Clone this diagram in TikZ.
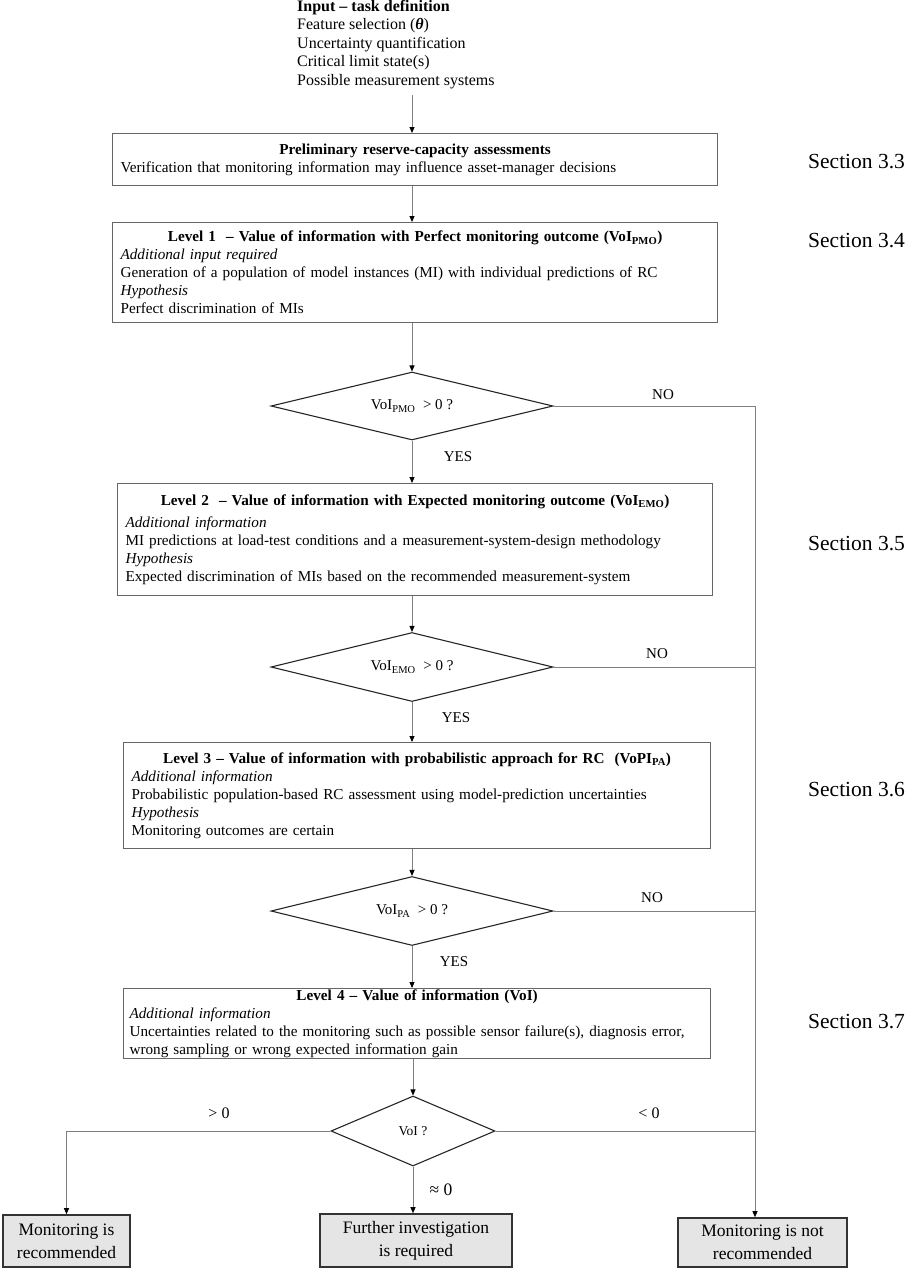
\documentclass[tikz,border=0pt]{standalone}
\usepackage{fontspec}
\setmainfont{Liberation Serif}
\usetikzlibrary{shapes.geometric,arrows.meta,calc}
\begin{document}
\begin{tikzpicture}[x=1pt,y=-1pt,
  body/.style={font=\fontsize{15.2}{18}\selectfont},
  stagebox/.style={draw=black!60, line width=1.2pt, rectangle, inner xsep=8pt, inner ysep=0pt, align=left, anchor=north west, body},
  decision/.style={draw=black!85, line width=1.1pt, diamond, aspect=4, inner sep=0pt, font=\fontsize{15}{18}\selectfont},
  conn/.style={draw=black!50, line width=0.9pt},
  arr/.style={conn, -{Triangle[length=6pt,width=5pt,color=black]}},
  seclabel/.style={font=\fontsize{21.5}{24}\selectfont, anchor=west, inner sep=0pt},
  lab/.style={font=\fontsize{15}{18}\selectfont, inner sep=0pt},
  outbox/.style={draw=black!80, fill=black!10, line width=1.6pt, align=center, inner sep=0pt, font=\fontsize{17.5}{23}\selectfont}
]
\useasboundingbox (0,0) rectangle (916,1270);

% input
\node[align=left, anchor=north west, inner sep=0pt, font=\fontsize{16}{18.5}\selectfont] (input) at (297,0)
  {\textbf{Input -- task definition}\\Feature selection (\textbf{\textit{θ}})\\Uncertainty quantification\\Critical limit state(s)\\Possible measurement systems};

% boxes
\node[stagebox, minimum width=605pt, minimum height=52pt, text width=589pt] (b0) at (112,133)
  {{\centering\textbf{Preliminary reserve-capacity assessments}\par}
   Verification that monitoring information may influence asset-manager decisions};

\node[stagebox, minimum width=605pt, minimum height=100pt, text width=589pt] (b1) at (112,222)
  {{\centering\textbf{Level 1~ -- Value of information with Perfect monitoring outcome (VoI\textsubscript{PMO})}\par}
   \textit{Additional input required}\\
   Generation of a population of model instances (MI) with individual predictions of RC\\
   \textit{Hypothesis}\\
   Perfect discrimination of MIs};

\node[stagebox, minimum width=595pt, minimum height=112pt, text width=579pt] (b2) at (117,483)
  {{\centering\textbf{Level 2~ -- Value of information with Expected monitoring outcome (VoI\textsubscript{EMO})}\par}
   \vspace{4pt}\textit{Additional information}\\
   MI predictions at load-test conditions and a measurement-system-design methodology\\
   \textit{Hypothesis}\\
   Expected discrimination of MIs based on the recommended measurement-system};

\node[stagebox, minimum width=587pt, minimum height=106pt, text width=571pt] (b3) at (123,742)
  {{\centering\textbf{Level 3 -- Value of information with probabilistic approach for RC~ (VoPI\textsubscript{PA})}\par}
   \textit{Additional information}\\
   Probabilistic population-based RC assessment using model-prediction uncertainties\\
   \textit{Hypothesis}\\
   Monitoring outcomes are certain};

\node[stagebox, minimum width=587pt, minimum height=70pt, text width=575pt, inner xsep=6pt] (b4) at (123,988)
  {{\centering\textbf{Level 4 -- Value of information (VoI)}\par}
   \textit{Additional information}\\
   Uncertainties related to the monitoring such as possible sensor failure(s), diagnosis error,\\
   wrong sampling or wrong expected information gain};

% decisions
\node[decision, minimum width=282pt, minimum height=68pt] (d1) at (412,406) {VoI\textsubscript{PMO}~ > 0 ?};
\node[decision, minimum width=282pt, minimum height=69pt] (d2) at (412,667) {VoI\textsubscript{EMO}~ > 0 ?};
\node[decision, minimum width=282pt, minimum height=69pt] (d3) at (412,911) {VoI\textsubscript{PA}~ > 0 ?};
\node[decision, aspect=2.3, minimum width=164pt, minimum height=70pt, font=\fontsize{13.5}{15}\selectfont] (d4) at (413,1131) {VoI ?};

% outcomes
\node[outbox, minimum width=127pt, minimum height=52pt] (o1) at (66.5,1241) {Monitoring is\\recommended};
\node[outbox, minimum width=192pt, minimum height=53pt] (o2) at (416,1240.5) {Further investigation\\is required};
\node[outbox, minimum width=169pt, minimum height=49pt] (o3) at (762.5,1242.5) {Monitoring is not\\recommended};

% trunk
\coordinate (t1) at (755,406);

% connectors
\draw[arr] (412,95) -- (412,133);
\draw[arr] (b0.south -| d1.north) -- (b1.north -| d1.north);
\draw[arr] (b1.south -| d1.north) -- (d1.north);
\draw[arr] (d1.south) -- (b2.north -| d1.south);
\draw[arr] (b2.south -| d2.north) -- (d2.north);
\draw[arr] (d2.south) -- (b3.north -| d2.south);
\draw[arr] (b3.south -| d3.north) -- (d3.north);
\draw[arr] (d3.south) -- (b4.north -| d3.south);
\draw[arr] (b4.south -| d4.north) -- (d4.north);
\draw[arr] (d4.south) -- (o2.north -| d4.south);

\draw[conn] (d1.east) -- (t1);
\draw[arr] (t1) -- (t1 |- o3.north);
\draw[conn] (d2.east) -- (d2.east -| t1);
\draw[conn] (d3.east) -- (d3.east -| t1);
\draw[conn] (d4.east) -- (d4.east -| t1);
\draw[arr] (d4.west) -- (d4.west -| o1.north) -- (o1.north);

% labels
\node[lab] (no1) at (663,395) {NO};
\node[lab] (no2) at (657,654) {NO};
\node[lab] (no3) at (652,898) {NO};
\node[lab] (yes1) at (458,457) {YES};
\node[lab] (yes2) at (456,718) {YES};
\node[lab] (yes3) at (454,962) {YES};
\node[lab, font=\fontsize{16}{18}\selectfont] (gt) at (219,1113) {> 0};
\node[lab, font=\fontsize{16}{18}\selectfont] (lt) at (649,1113) {< 0};
\node[lab, font=\fontsize{17.5}{20}\selectfont] (approx) at (441,1190) {≈ 0};

% sections
\node[seclabel] (s33) at (808,162) {Section 3.3};
\node[seclabel] (s34) at (808,241) {Section 3.4};
\node[seclabel] (s35) at (808,544) {Section 3.5};
\node[seclabel] (s36) at (808,790) {Section 3.6};
\node[seclabel] (s37) at (808,1022) {Section 3.7};
\end{tikzpicture}
\end{document}
